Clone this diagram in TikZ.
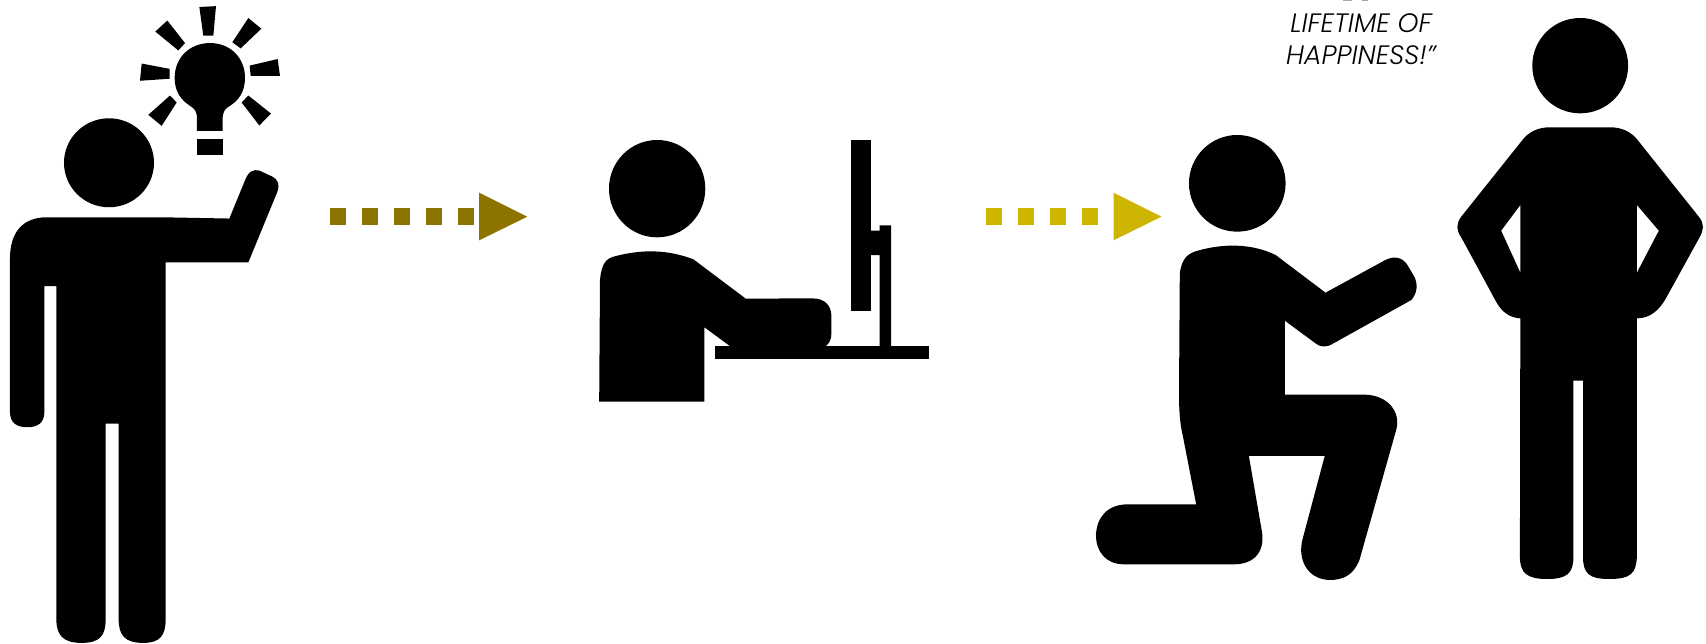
\documentclass[tikz,border=0pt]{standalone}
\usepackage{fontspec}
\setmainfont{Poppins}[ItalicFont={Poppins Light Italic}]
\definecolor{darkgold}{HTML}{8B7500}
\definecolor{brightgold}{HTML}{CDB400}
\tikzset{
  solidshape/.style={fill=black,draw=none},
  arrowdash/.style={line width=16.5pt,dash pattern=on 16pt off 16pt},
  quote/.style={inner sep=0pt,anchor=base,font=\fontsize{26.6}{26.6}\selectfont\itshape,text=black},
}
\begin{document}
\begin{tikzpicture}[x=1pt,y=-1pt]
\useasboundingbox (0,0) rectangle (1706,643);
\begin{scope}[x=0.33333pt,y=-0.41pt]
 % head
 \fill[solidshape] (327,397) ellipse [x radius=135,y radius=108.5];
 % body
 \fill[solidshape] (140,530) -- (490,530) -- (688,533) -- (735,440) .. controls (745,418) and (760,412) .. (778,416)
   -- (815,430) .. controls (835,438) and (840,450) .. (832,468) -- (745,640) -- (497,640) -- (497,1510)
   .. controls (497,1550) and (480,1568) .. (430,1568) .. controls (375,1568) and (356,1550) .. (356,1510)
   -- (356,1033) -- (317,1033) -- (317,1510) .. controls (317,1550) and (300,1568) .. (245,1568)
   .. controls (190,1568) and (169,1550) .. (169,1510) -- (169,698) -- (133,698) -- (133,1005)
   .. controls (133,1030) and (115,1042) .. (82,1042) .. controls (48,1042) and (30,1030) .. (30,1005)
   -- (30,630) .. controls (30,565) and (70,530) .. (140,530) -- cycle;
 % bulb
 \fill[solidshape] (630,105) .. controls (690,105) and (735,140) .. (735,190) .. controls (735,225) and (715,245) .. (690,258)
   .. controls (675,265) and (668,272) .. (668,290) -- (668,319) -- (591,319) -- (591,290)
   .. controls (591,272) and (584,265) .. (570,258) .. controls (545,245) and (524,225) .. (524,190)
   .. controls (524,140) and (570,105) .. (630,105) -- cycle;
 \fill[solidshape] (591,338) rectangle (668,377);
 \fill[solidshape] (598,17) -- (648,15) -- (640,87) -- (610,87) -- cycle;
 \fill[solidshape] (745,44) -- (784,70) -- (722,118) -- (697,103) -- cycle;
 \fill[solidshape] (833,144) -- (840,185) -- (752,185) -- (749,160) -- cycle;
 \fill[solidshape] (745,233) -- (813,277) -- (778,306) -- (725,250) -- cycle;
 \fill[solidshape] (510,233) -- (530,250) -- (485,307) -- (445,280) -- cycle;
 \fill[solidshape] (425,155) -- (509,168) -- (509,192) -- (420,197) -- cycle;
 \fill[solidshape] (502,50) -- (555,105) -- (535,123) -- (466,77) -- cycle;
\end{scope}
% arrows
\coordinate (arrowAstart) at (329.8,216.7);
\coordinate (arrowAend) at (474,216.7);
\coordinate (arrowBstart) at (986,216.7);
\coordinate (arrowBend) at (1098,216.7);
\draw[arrowdash,draw=darkgold] (arrowAstart) -- (arrowAend);
\fill[darkgold] (479.2,192.7) -- (527.3,216.7) -- (479.2,240.3) -- cycle;
\draw[arrowdash,draw=brightgold] (arrowBstart) -- (arrowBend);
\fill[brightgold] (1113.5,192.7) -- (1161.4,216.7) -- (1113.5,240.3) -- cycle;
% seated person
\begin{scope}[xshift=320pt,yshift=-120pt,x=0.40816pt,y=-0.33333pt]
 \fill[solidshape] (826,206) ellipse [x radius=118,y radius=146];
 \fill[solidshape] (684,845) -- (686,480) .. controls (690,430) and (700,415) .. (725,408)
   .. controls (790,388) and (850,388) .. (915,418) -- (1043,536) -- (1205,535)
   .. controls (1240,535) and (1253,560) .. (1253,590) -- (1253,640) .. controls (1253,660) and (1247,670) .. (1240,677)
   -- (1240,685) -- (1003,685) -- (1003,677) -- (942,622) -- (942,845) -- cycle;
 \fill[solidshape] (968,677) rectangle (1492,718);
 \fill[solidshape] (1302,60) rectangle (1350,573);
 \fill[solidshape] (1371,685) -- (1399,685) -- (1399,316) -- (1371,316) -- (1371,332) -- (1348,332) -- (1348,405) -- (1371,405) -- cycle;
\end{scope}
% kneeling and standing persons
\begin{scope}[xshift=1080pt,x=0.3992pt,y=-0.33333pt]
 \fill[solidshape] (394,550) ellipse [x radius=121,y radius=145];
 \fill[solidshape] (250,820) .. controls (255,775) and (270,760) .. (295,752)
   .. controls (360,730) and (430,730) .. (490,765) -- (615,878) -- (765,780)
   .. controls (790,765) and (810,775) .. (820,795) -- (835,825) .. controls (848,850) and (845,880) .. (830,900)
   -- (635,1030) .. controls (615,1045) and (600,1040) .. (590,1030) -- (513,962) -- (513,1184) -- (715,1184)
   .. controls (770,1186) and (805,1235) .. (792,1290) -- (700,1680) .. controls (685,1725) and (660,1740) .. (625,1740)
   .. controls (570,1738) and (545,1680) .. (557,1620) -- (613,1368) -- (423,1368) -- (455,1590)
   .. controls (465,1650) and (440,1693) .. (385,1693) -- (110,1693) .. controls (65,1693) and (40,1655) .. (40,1605)
   .. controls (42,1550) and (70,1513) .. (120,1513) -- (291,1513) -- (258,1310) .. controls (250,1270) and (248,1230) .. (248,1180) -- cycle;
 \fill[solidshape] (1253,197) ellipse [x radius=120,y radius=143];
 \fill[solidshape,even odd rule] (1170,382) -- (1335,382) .. controls (1365,385) and (1385,400) .. (1400,425)
   -- (1550,650) .. controls (1565,672) and (1562,690) .. (1552,712) -- (1470,890) .. controls (1450,935) and (1425,955) .. (1395,955)
   -- (1395,1670) .. controls (1393,1720) and (1380,1737) .. (1325,1737) .. controls (1275,1737) and (1260,1720) .. (1260,1670)
   -- (1260,1142) -- (1236,1142) -- (1236,1670) .. controls (1236,1720) and (1220,1737) .. (1170,1737)
   .. controls (1120,1737) and (1102,1720) .. (1102,1670) -- (1103,955) .. controls (1075,953) and (1055,935) .. (1040,900)
   -- (955,712) .. controls (942,690) and (942,672) .. (955,650) -- (1105,425) .. controls (1120,400) and (1140,385) .. (1170,382) -- cycle
   (1103,615) -- (1055,692) -- (1103,818) -- cycle
   (1395,615) -- (1450,692) -- (1395,818) -- cycle;
\end{scope}
% remnants of a cropped line of text at the top edge
\fill[black!35] (1343,0) rectangle (1352,1);
\fill[black!35] (1362,0) rectangle (1368,1);
% quote text
\node[quote] (lifetime) at (1361,32) {LIFETIME OF};
\node[quote] (happiness) at (1361,64) {HAPPINESS!”};
\end{tikzpicture}
\end{document}
